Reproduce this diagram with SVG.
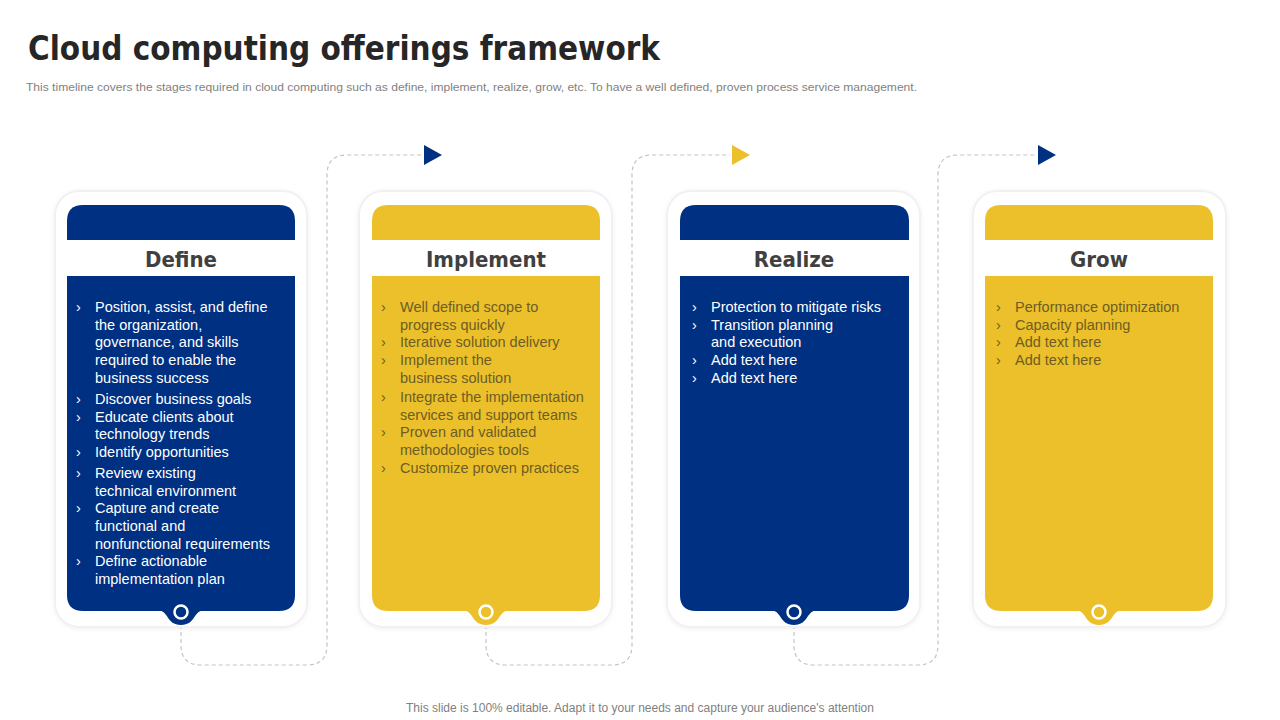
<svg xmlns="http://www.w3.org/2000/svg" width="1280" height="720" viewBox="0 0 1280 720">
<defs>
<style>
.title{font-family:"DejaVu Sans Condensed","DejaVu Sans",sans-serif;font-weight:bold;font-size:34px;fill:#262626}
.sub{font-family:"Liberation Sans Narrow","Liberation Sans",Arial,sans-serif;font-size:11px;fill:#7f7f7f}
.foot{font-family:"Liberation Sans",Arial,sans-serif;font-size:12px;fill:#7f7f7f}
.head{font-family:"DejaVu Sans Condensed","DejaVu Sans",sans-serif;font-weight:bold;font-size:22px;fill:#404040;text-anchor:middle}
.bw{font-family:"Liberation Sans",Arial,sans-serif;font-size:14.5px;fill:#ffffff}
.by{font-family:"Liberation Sans",Arial,sans-serif;font-size:14.5px;fill:#6e5d24}
.outer{fill:#ffffff;stroke:#f1f1f1;stroke-width:2}
.navy{fill:#003082}
.yel{fill:#ebc02b}
.conn{fill:none;stroke:#c4c4c4;stroke-width:1.2;stroke-dasharray:4 3}
.dot{stroke:#ffffff;stroke-width:2.5}
</style>
<filter id="sh" x="-10%" y="-10%" width="120%" height="120%">
<feDropShadow dx="0" dy="1" stdDeviation="2" flood-color="#000" flood-opacity="0.06"/>
</filter>
</defs>
<rect width="1280" height="720" fill="#ffffff"/>
<text class="title" x="28" y="60" textLength="632" lengthAdjust="spacingAndGlyphs">Cloud computing offerings framework</text>
<text class="sub" x="26" y="91" textLength="891" lengthAdjust="spacingAndGlyphs">This timeline covers the stages required in cloud computing such as define, implement, realize, grow, etc. To have  a well defined, proven process service management.</text>

<g id="connectors">
<path class="conn" d="M181 625 V645 Q181 665 201 665 H307 Q327 665 327 645 V175 Q327 155 347 155 H422"/>
<path class="conn" d="M486 625 V645 Q486 665 506 665 H612 Q632 665 632 645 V175 Q632 155 652 155 H730"/>
<path class="conn" d="M794 625 V645 Q794 665 814 665 H918 Q938 665 938 645 V175 Q938 155 958 155 H1036"/>
<polygon class="navy" points="424,145 442,155 424,165"/>
<polygon class="yel" points="732,145 750,155 732,165"/>
<polygon class="navy" points="1038,145 1056,155 1038,165"/>
</g>

<g id="define">
<rect class="outer" x="55" y="191" width="252" height="436" rx="24" filter="url(#sh)"/>
<path class="navy" d="M67 240 V221 Q67 205 83 205 H279 Q295 205 295 221 V240 Z"/>
<path class="navy" d="M67 276 H295 V595 Q295 611 279 611 H83 Q67 611 67 595 Z"/>
<path class="navy" d="M157 610 C169 610 166 625 181 625 C196 625 193 610 205 610 Z"/>
<circle class="navy dot" cx="181" cy="612" r="6.5"/>
<text class="head" x="181" y="267">Define</text>
<g class="bw">
<text x="76" y="312">›</text><text x="95" y="312">Position, assist, and define</text>
<text x="95" y="330">the organization,</text>
<text x="95" y="347">governance, and skills</text>
<text x="95" y="365">required to enable the</text>
<text x="95" y="383">business success</text>
<text x="76" y="404">›</text><text x="95" y="404">Discover business goals</text>
<text x="76" y="422">›</text><text x="95" y="422">Educate clients about</text>
<text x="95" y="439">technology trends</text>
<text x="76" y="457">›</text><text x="95" y="457">Identify opportunities</text>
<text x="76" y="478">›</text><text x="95" y="478">Review existing</text>
<text x="95" y="496">technical environment</text>
<text x="76" y="513">›</text><text x="95" y="513">Capture and create</text>
<text x="95" y="531">functional and</text>
<text x="95" y="549">nonfunctional requirements</text>
<text x="76" y="566">›</text><text x="95" y="566">Define actionable</text>
<text x="95" y="584">implementation plan</text>
</g>
</g>

<g id="implement">
<rect class="outer" x="359" y="191" width="253" height="436" rx="24" filter="url(#sh)"/>
<path class="yel" d="M372 240 V221 Q372 205 388 205 H584 Q600 205 600 221 V240 Z"/>
<path class="yel" d="M372 276 H600 V595 Q600 611 584 611 H388 Q372 611 372 595 Z"/>
<path class="yel" d="M462 610 C474 610 471 625 486 625 C501 625 498 610 510 610 Z"/>
<circle class="yel dot" cx="486" cy="612" r="6.5"/>
<text class="head" x="486" y="267">Implement</text>
<g class="by">
<text x="381" y="312">›</text><text x="400" y="312">Well defined scope to</text>
<text x="400" y="330">progress quickly</text>
<text x="381" y="347">›</text><text x="400" y="347">Iterative solution delivery</text>
<text x="381" y="365">›</text><text x="400" y="365">Implement the</text>
<text x="400" y="383">business solution</text>
<text x="381" y="402">›</text><text x="400" y="402">Integrate the implementation</text>
<text x="400" y="420">services and support teams</text>
<text x="381" y="437">›</text><text x="400" y="437">Proven and validated</text>
<text x="400" y="455">methodologies tools</text>
<text x="381" y="473">›</text><text x="400" y="473">Customize proven practices</text>
</g>
</g>

<g id="realize">
<rect class="outer" x="667" y="191" width="253" height="436" rx="24" filter="url(#sh)"/>
<path class="navy" d="M680 240 V221 Q680 205 696 205 H893 Q909 205 909 221 V240 Z"/>
<path class="navy" d="M680 276 H909 V595 Q909 611 893 611 H696 Q680 611 680 595 Z"/>
<path class="navy" d="M770 610 C782 610 779 625 794 625 C809 625 806 610 818 610 Z"/>
<circle class="navy dot" cx="794" cy="612" r="6.5"/>
<text class="head" x="794" y="267">Realize</text>
<g class="bw">
<text x="692" y="312">›</text><text x="711" y="312">Protection to mitigate risks</text>
<text x="692" y="330">›</text><text x="711" y="330">Transition planning</text>
<text x="711" y="347">and execution</text>
<text x="692" y="365">›</text><text x="711" y="365">Add text here</text>
<text x="692" y="383">›</text><text x="711" y="383">Add text here</text>
</g>
</g>

<g id="grow">
<rect class="outer" x="973" y="191" width="253" height="436" rx="24" filter="url(#sh)"/>
<path class="yel" d="M985 240 V221 Q985 205 1001 205 H1197 Q1213 205 1213 221 V240 Z"/>
<path class="yel" d="M985 276 H1213 V595 Q1213 611 1197 611 H1001 Q985 611 985 595 Z"/>
<path class="yel" d="M1075 610 C1087 610 1084 625 1099 625 C1114 625 1111 610 1123 610 Z"/>
<circle class="yel dot" cx="1099" cy="612" r="6.5"/>
<text class="head" x="1099" y="267">Grow</text>
<g class="by">
<text x="996" y="312">›</text><text x="1015" y="312">Performance optimization</text>
<text x="996" y="330">›</text><text x="1015" y="330">Capacity planning</text>
<text x="996" y="347">›</text><text x="1015" y="347">Add text here</text>
<text x="996" y="365">›</text><text x="1015" y="365">Add text here</text>
</g>
</g>

<text class="foot" x="640" y="712" text-anchor="middle">This slide is 100% editable. Adapt it to your needs and capture your audience's attention</text>
</svg>
